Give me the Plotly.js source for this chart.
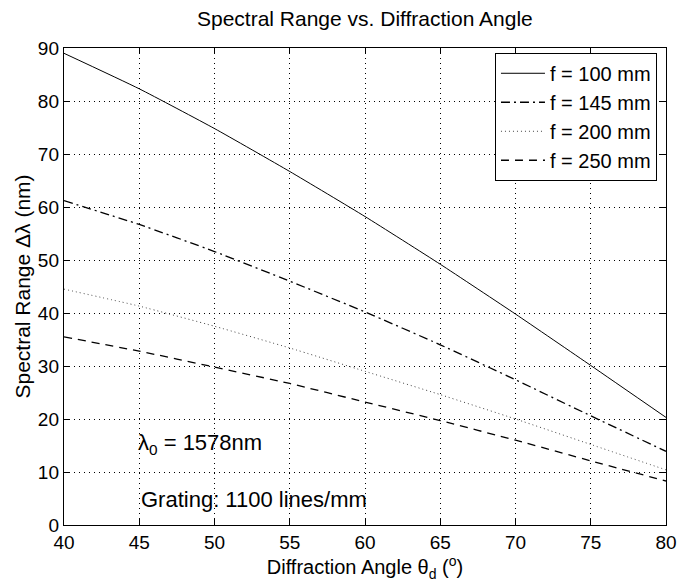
<!DOCTYPE html>
<html>
<head>
<meta charset="utf-8">
<script src="https://cdn.plot.ly/plotly-3.0.1.min.js"></script>
<style>
html,body{margin:0;padding:0;background:#fff;}
#chart{width:682px;height:586px;}
</style>
</head>
<body>
<div id="chart"></div>
<script>
const angles = [40, 45, 50, 55, 60, 65, 70, 75, 80];
const f100 = [89.0, 82.3, 74.8, 66.7, 58.2, 49.2, 39.8, 30.1, 20.3];
const f145 = [61.2, 56.7, 51.6, 46.0, 40.2, 34.0, 27.4, 20.6, 13.9];
const f200 = [44.5, 41.3, 37.5, 33.4, 29.0, 24.6, 20.0, 15.2, 10.4];
const f250 = [35.5, 32.8, 29.8, 26.7, 23.2, 19.7, 16.0, 12.1, 8.3];
const seriesNames = ["f = 100 mm", "f = 145 mm", "f = 200 mm", "f = 250 mm"];
const xTicks = [40, 45, 50, 55, 60, 65, 70, 75, 80];
const yTicks = [0, 10, 20, 30, 40, 50, 60, 70, 80, 90];

const FONT = "Liberation Sans, Arial, Helvetica, sans-serif";
const styles = [
  {dash: "solid", width: 1, color: "#000"},
  {dash: "9px,4px,2px,4px", width: 1.3, color: "#000"},
  {dash: "1px,3px", width: 1, color: "#444"},
  {dash: "8px,6px", width: 1.3, color: "#000"}
];
const data = [f100, f145, f200, f250].map((ys, i) => ({
  x: angles, y: ys, type: "scatter", mode: "lines", name: seriesNames[i],
  line: {shape: "spline", smoothing: 0.5, dash: styles[i].dash, width: styles[i].width, color: styles[i].color}
}));

const axisCommon = {
  showline: true, linecolor: "#000", linewidth: 1.2, mirror: "ticks",
  ticks: "inside", ticklen: 6, tickcolor: "#000",
  showgrid: true, gridcolor: "#000", gridwidth: 1, griddash: "1px,4px",
  zeroline: false, tickfont: {family: FONT, size: 19, color: "#000"}
};

const layout = {
  width: 682, height: 586,
  margin: {l: 64, r: 16, t: 48, b: 61},
  paper_bgcolor: "#fff", plot_bgcolor: "#fff",
  font: {family: FONT, color: "#000"},
  title: {text: "Spectral Range vs. Diffraction Angle", font: {family: FONT, size: 21, color: "#000"}, x: 0.535, xanchor: "center", y: 0.969, yanchor: "middle"},
  xaxis: Object.assign({}, axisCommon, {
    range: [40, 80], tickvals: xTicks, ticktext: xTicks.map(String),
    title: {text: "Diffraction Angle θ<sub>d</sub> (<sup>o</sup>)", font: {family: FONT, size: 20, color: "#000"}, standoff: 2}
  }),
  yaxis: Object.assign({}, axisCommon, {
    range: [0, 90], tickvals: yTicks, ticktext: yTicks.map(String),
    title: {text: "Spectral Range Δλ (nm)", font: {family: FONT, size: 21, color: "#000"}, standoff: 1}
  }),
  legend: {
    x: 0.985, xanchor: "right", y: 0.99, yanchor: "top",
    bgcolor: "#fff", bordercolor: "#000", borderwidth: 1,
    font: {family: FONT, size: 20, color: "#000"},
    tracegroupgap: 0, itemwidth: 44
  },
  showlegend: true,
  annotations: [
    {x: 44.8, y: 15.2, xref: "x", yref: "y", xanchor: "left", yanchor: "middle", showarrow: false,
     text: "λ<sub>0</sub> = 1578nm", font: {family: FONT, size: 22, color: "#000"}},
    {x: 45.0, y: 4.8, xref: "x", yref: "y", xanchor: "left", yanchor: "middle", showarrow: false,
     text: "Grating: 1100 lines/mm", font: {family: FONT, size: 22, color: "#000"}}
  ]
};

Plotly.newPlot("chart", data, layout, {staticPlot: true, displayModeBar: false});
</script>
</body>
</html>
